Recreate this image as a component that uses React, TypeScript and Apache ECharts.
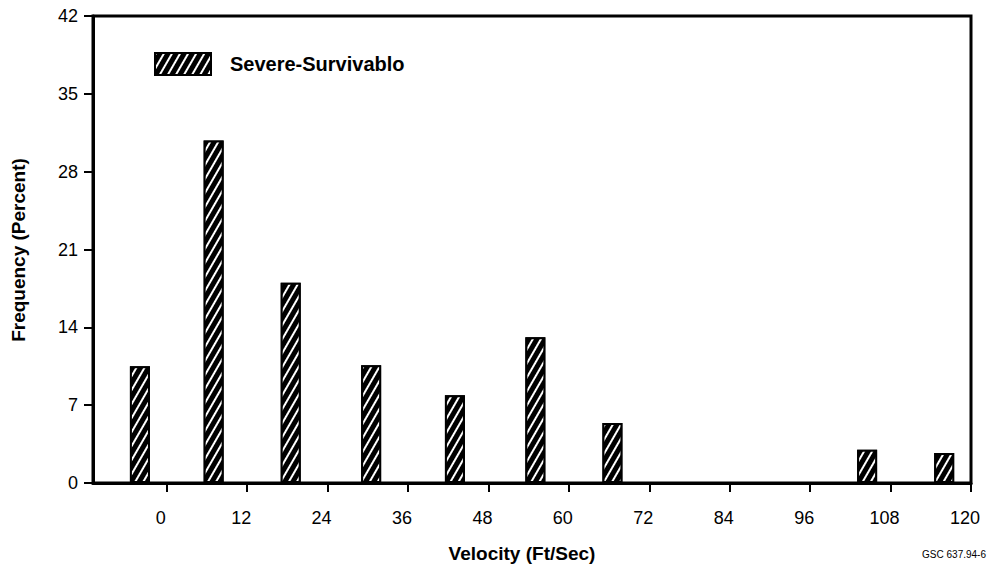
import React, { useEffect, useRef } from "react";
import * as echarts from "echarts";

const velocity = [-4, 7, 18.5, 30.5, 43, 55, 66.5, 104.5, 116];
const frequency = [10.5, 30.8, 18.0, 10.6, 7.9, 13.1, 5.4, 3.0, 2.7];
const xTickValues = [0, 12, 24, 36, 48, 60, 72, 84, 96, 108, 120];
const seriesName = "Severe-Survivablo";
const xTitle = "Velocity (Ft/Sec)";
const yTitle = "Frequency (Percent)";
const figureCode = "GSC 637.94-6";

const FONT = "'Liberation Sans', Arial, Helvetica, sans-serif";

export default function App() {
  const ref = useRef<HTMLDivElement>(null);
  useEffect(() => {
    if (!ref.current) return;
    const chart = echarts.init(ref.current, undefined, { renderer: "svg" });
    const hatch = {
      symbol: "rect",
      symbolSize: 1,
      color: "#ffffff",
      dashArrayX: [1, 0],
      dashArrayY: [2, 5],
      rotation: -Math.PI / 3,
    };
    chart.setOption({
      animation: false,
      backgroundColor: "#ffffff",
      grid: {
        left: 93,
        right: 19,
        top: 16,
        bottom: 87,
        show: true,
        borderColor: "#000",
        borderWidth: 3,
        backgroundColor: "transparent",
      },
      legend: {
        data: [seriesName],
        left: 149,
        top: 47,
        itemWidth: 56,
        itemHeight: 22,
        icon: "rect",
        textStyle: {
          fontFamily: FONT,
          fontSize: 20,
          fontWeight: "bold",
          color: "#000",
          padding: [0, 0, 0, 14],
        },
      },
      xAxis: {
        type: "value",
        min: -11,
        max: 120,
        splitLine: { show: false },
        axisLine: { show: true, onZero: false, lineStyle: { color: "#000", width: 3 } },
        axisTick: {
          show: true,
          customValues: xTickValues,
          length: 9,
          lineStyle: { color: "#000", width: 2 },
        },
        axisLabel: {
          customValues: xTickValues,
          fontFamily: FONT,
          fontSize: 18,
          color: "#000",
          margin: 26,
          padding: [0, 12, 0, 0],
        },
      },
      yAxis: {
        type: "value",
        min: 0,
        max: 42,
        interval: 7,
        splitLine: { show: false },
        axisLine: { show: true, onZero: false, lineStyle: { color: "#000", width: 3 } },
        axisTick: { show: true, length: 9, lineStyle: { color: "#000", width: 2 } },
        axisLabel: {
          fontFamily: FONT,
          fontSize: 18,
          color: "#000",
          margin: 15,
        },
      },
      series: [
        {
          name: seriesName,
          type: "bar",
          barWidth: 20,
          data: velocity.map((v, i) => [v, frequency[i]]),
          itemStyle: {
            color: "#000",
            borderColor: "#000",
            borderWidth: 2,
            decal: hatch,
          },
        },
      ],
      graphic: [
        {
          type: "text",
          x: 18,
          y: 250,
          rotation: Math.PI / 2,
          style: {
            text: yTitle,
            fontFamily: FONT,
            fontSize: 19,
            fontWeight: "bold",
            fill: "#000",
            align: "center",
            verticalAlign: "middle",
          },
        },
        {
          type: "text",
          x: 522,
          y: 553,
          style: {
            text: xTitle,
            fontFamily: FONT,
            fontSize: 19,
            fontWeight: "bold",
            fill: "#000",
            align: "center",
            verticalAlign: "middle",
          },
        },
        {
          type: "text",
          x: 986,
          y: 554,
          style: {
            text: figureCode,
            fontFamily: FONT,
            fontSize: 10,
            fill: "#000",
            align: "right",
            verticalAlign: "middle",
          },
        },
      ],
    });
    return () => chart.dispose();
  }, []);
  return (
    <div
      ref={ref}
      style={{ position: "absolute", left: 0, top: 0, width: 990, height: 570 }}
    />
  );
}
